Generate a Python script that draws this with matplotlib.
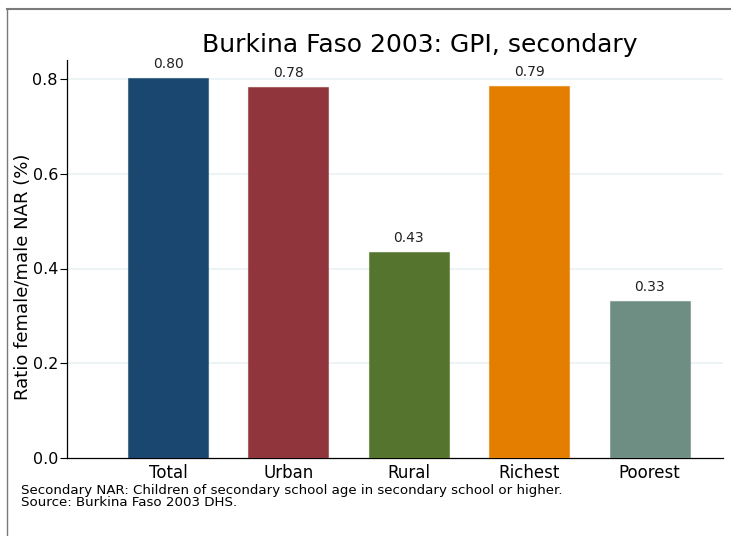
import matplotlib
matplotlib.use("Agg")
import matplotlib.pyplot as plt
from matplotlib.lines import Line2D

plt.rcParams['font.family'] = ['DejaVu Sans']

categories = ["Total", "Urban", "Rural", "Richest", "Poorest"]
values = [0.802, 0.783, 0.434, 0.786, 0.331]
labels = ["0.80", "0.78", "0.43", "0.79", "0.33"]
colors = ["#1a476f", "#90353b", "#55752f", "#e37e00", "#6e8e84"]
yticks = [0.0, 0.2, 0.4, 0.6, 0.8]
title = "Burkina Faso 2003: GPI, secondary"
ylabel = "Ratio female/male NAR (%)"
notes = ["Secondary NAR: Children of secondary school age in secondary school or higher.",
         "Source: Burkina Faso 2003 DHS."]

W, H = 731, 536
fig = plt.figure(figsize=(W / 100, H / 100), dpi=100)
fig.patch.set_facecolor("white")

ax_l, ax_r, ax_b, ax_t = 67, 723, 458, 60
ax = fig.add_axes([ax_l / W, 1 - ax_b / H, (ax_r - ax_l) / W, (ax_b - ax_t) / H])

x = list(range(len(categories)))
ax.bar(x, values, width=0.665, color=colors, zorder=3,
       edgecolor=[matplotlib.colors.to_rgba(c, 0.55) for c in colors], linewidth=0.8)
for xi, v, lab in zip(x, values, labels):
    ax.annotate(lab, (xi, v), xytext=(0, 5), textcoords="offset points",
                ha="center", va="bottom", fontsize=10, color="#222222")

ax.set_xlim(-0.84, 4.61)
ax.set_ylim(0, (ax_b - ax_t) / 473.75)
ax.set_yticks(yticks)
ax.set_yticklabels([f"{t:.1f}" for t in yticks], fontsize=11.5)
ax.set_xticks(x)
ax.set_xticklabels(categories, fontsize=12)
ax.tick_params(axis="x", length=0, pad=4)
ax.tick_params(axis="y", length=5, width=0.8, direction="out", pad=1.5)
ax.set_ylabel(ylabel, fontsize=13)
ax.yaxis.set_label_coords(-0.054, 0.455)

for t in yticks[1:]:
    ax.axhline(t, color="#eaf2f3", linewidth=1.2, zorder=1)

ax.spines["top"].set_visible(False)
ax.spines["right"].set_visible(False)
ax.spines["left"].set_linewidth(0.9)
ax.spines["bottom"].set_linewidth(0.9)

fig.text(420 / W, 1 - 45 / H, title, ha="center", va="center", fontsize=18)
fig.text(21 / W, 1 - 484 / H, "\n".join(notes), ha="left", va="top",
         fontsize=9.6, linespacing=0.95)

fig.add_artist(Line2D([6.5 / W, 1], [1 - 8.5 / H, 1 - 8.5 / H], transform=fig.transFigure,
                      color="#7a7a7a", linewidth=1.5))
fig.add_artist(Line2D([7 / W, 7 / W], [0, 1 - 8.5 / H], transform=fig.transFigure,
                      color="#7a7a7a", linewidth=1.0))

fig.savefig("out.png", dpi=100)
